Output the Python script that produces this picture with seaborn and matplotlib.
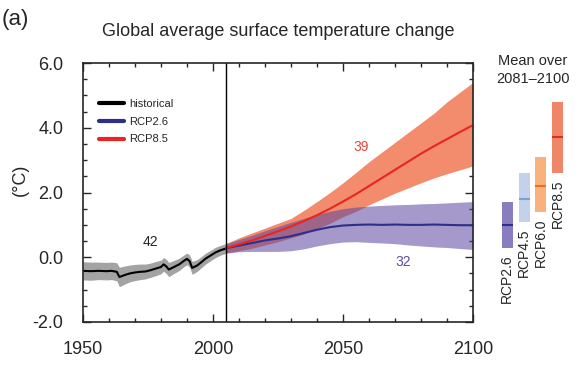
import numpy as np
import pandas as pd
import seaborn as sns
from matplotlib import pyplot as plt
from matplotlib.ticker import MultipleLocator

# historical mean and spread
hist_years = [1950, 1953, 1956, 1959, 1961, 1963, 1964, 1966, 1968, 1970, 1972, 1974, 1976, 1978,
              1980, 1981, 1982, 1983, 1985, 1987, 1989, 1990, 1991, 1992, 1994, 1996, 1997, 1999,
              2001, 2003, 2005]
hist_mean = [-0.42, -0.43, -0.42, -0.43, -0.42, -0.45, -0.61, -0.55, -0.50, -0.47, -0.45, -0.44,
             -0.40, -0.35, -0.30, -0.22, -0.28, -0.38, -0.30, -0.22, -0.10, -0.05, -0.12, -0.33,
             -0.25, -0.12, -0.05, 0.05, 0.15, 0.22, 0.27]
hist_spread = [0.28, 0.28, 0.27, 0.27, 0.27, 0.28, 0.30, 0.28, 0.26, 0.25, 0.24, 0.23, 0.22, 0.22,
               0.21, 0.21, 0.22, 0.22, 0.20, 0.19, 0.18, 0.18, 0.19, 0.20, 0.18, 0.17, 0.17, 0.16,
               0.16, 0.15, 0.15]

# projections
proj_years = [2005, 2010, 2015, 2020, 2025, 2030, 2035, 2040, 2045, 2050,
              2055, 2060, 2065, 2070, 2075, 2080, 2085, 2090, 2095, 2100]
rcp26_mean = [0.28, 0.36, 0.44, 0.52, 0.58, 0.65, 0.75, 0.85, 0.93, 0.98,
              1.00, 1.01, 1.00, 1.01, 1.00, 1.00, 1.01, 1.00, 0.99, 0.99]
rcp26_low = [0.13, 0.17, 0.18, 0.18, 0.18, 0.20, 0.26, 0.35, 0.42, 0.47,
             0.48, 0.46, 0.44, 0.42, 0.38, 0.35, 0.32, 0.30, 0.27, 0.24]
rcp26_high = [0.42, 0.55, 0.68, 0.82, 0.95, 1.08, 1.20, 1.32, 1.42, 1.50,
              1.55, 1.58, 1.60, 1.62, 1.63, 1.65, 1.66, 1.68, 1.70, 1.72]
rcp85_mean = [0.28, 0.40, 0.52, 0.66, 0.80, 0.95, 1.12, 1.30, 1.50, 1.72,
              1.95, 2.20, 2.45, 2.70, 2.95, 3.20, 3.43, 3.65, 3.87, 4.08]
rcp85_low = [0.13, 0.20, 0.28, 0.38, 0.48, 0.60, 0.72, 0.88, 1.05, 1.25,
             1.42, 1.62, 1.80, 1.98, 2.14, 2.30, 2.45, 2.58, 2.70, 2.82]
rcp85_high = [0.42, 0.60, 0.75, 0.90, 1.05, 1.20, 1.45, 1.72, 2.00, 2.30,
              2.62, 2.95, 3.25, 3.55, 3.85, 4.15, 4.45, 4.80, 5.10, 5.40]

# mean over 2081-2100
scenarios = ['RCP2.6', 'RCP4.5', 'RCP6.0', 'RCP8.5']
bar_mean = [1.0, 1.8, 2.2, 3.7]
bar_low = [0.3, 1.1, 1.4, 2.6]
bar_high = [1.7, 2.6, 3.1, 4.8]
bar_colors = ['#8a7dbf', '#c3d2ea', '#f9b27c', '#ef8667']
mean_colors = ['#2e2f8a', '#7f9fd2', '#e8731f', '#d9302a']

model_counts = {'historical': 42, 'RCP8.5': 39, 'RCP2.6': 32}

sns.set_style('ticks')
plt.rcParams['font.family'] = ['Liberation Sans', 'DejaVu Sans']

hist = pd.DataFrame({'year': hist_years, 'temp': hist_mean})
r26 = pd.DataFrame({'year': proj_years, 'temp': rcp26_mean})
r85 = pd.DataFrame({'year': proj_years, 'temp': rcp85_mean})

fig = plt.figure(figsize=(5.81, 3.72), dpi=100)
ax = fig.add_axes([83 / 581, 1 - 322 / 372, 390 / 581, 259 / 372])

h_lo = np.array(hist_mean) - np.array(hist_spread)
h_hi = np.array(hist_mean) + np.array(hist_spread)
ax.fill_between(hist_years, h_lo, h_hi, color='#a3a3a3', lw=0)
ax.fill_between(proj_years, rcp85_low, rcp85_high, color='#f28c6c', lw=0)
ax.fill_between(proj_years, rcp26_low, rcp26_high, color='#5a46a0', alpha=0.55, lw=0)

sns.lineplot(data=hist, x='year', y='temp', color='black', lw=1.5, ax=ax, label='historical')
sns.lineplot(data=r26, x='year', y='temp', color='#2e2f8a', lw=1.5, ax=ax, label='RCP2.6')
sns.lineplot(data=r85, x='year', y='temp', color='#e8251f', lw=1.5, ax=ax, label='RCP8.5')

ax.axvline(2005, color='black', lw=1)

ax.set_xlim(1950, 2100)
ax.set_ylim(-2, 6)
ax.xaxis.set_major_locator(MultipleLocator(50))
ax.xaxis.set_minor_locator(MultipleLocator(10))
ax.yaxis.set_major_locator(MultipleLocator(2))
ax.yaxis.set_minor_locator(MultipleLocator(0.5))
ax.yaxis.set_major_formatter(plt.FuncFormatter(lambda v, p: f'{v:.1f}'))
ax.tick_params(which='both', direction='in', top=True, right=True, width=1, labelsize=13)
ax.tick_params(which='major', length=6, pad=14)
ax.tick_params(which='minor', length=3)
for s in ax.spines.values():
    s.set_linewidth(1.2)
ax.set_xlabel('')
ax.set_ylabel('')

leg = ax.legend(loc='upper left', bbox_to_anchor=(0.015, 0.9), frameon=False, fontsize=8,
                handlelength=2.3, labelspacing=0.7, handletextpad=0.4)
for line in leg.get_lines():
    line.set_linewidth(3)

ax.text(1976, 0.47, str(model_counts['historical']), fontsize=10, ha='center', va='center')
ax.text(2057, 3.4, str(model_counts['RCP8.5']), fontsize=10, ha='center', va='center', color='#e8423a')
ax.text(2073, -0.15, str(model_counts['RCP2.6']), fontsize=10, ha='center', va='center', color='#5b4fa3')

# side panel with 2081-2100 means
ax2 = fig.add_axes([499 / 581, 1 - 322 / 372, 67 / 581, 259 / 372])
xpos = np.arange(len(scenarios))
ax2.bar(xpos, np.array(bar_high) - np.array(bar_low), bottom=bar_low, width=0.66,
        color=bar_colors, lw=0)
for i in xpos:
    ax2.hlines(bar_mean[i], i - 0.33, i + 0.33, color=mean_colors[i], lw=1.5)
    ax2.text(i, bar_low[i] - 0.2, scenarios[i], rotation=90, ha='center', va='top', fontsize=10)
ax2.set_xlim(-0.5, 3.5)
ax2.set_ylim(-2, 6)
ax2.axis('off')

fig.text(20 / 581, 1 - 180 / 372, '(°C)', rotation=90, ha='center', va='center', fontsize=13)
fig.text(533 / 581, 1 - 70 / 372, 'Mean over\n2081\u20132100', ha='center', va='center',
         fontsize=10.5, linespacing=1.3)
fig.text(278 / 581, 1 - 32 / 372, 'Global average surface temperature change', ha='center',
         va='center', fontsize=13)
fig.text(2 / 581, 1 - 20 / 372, '(a)', ha='left', va='center', fontsize=16)

fig.savefig('out.png', dpi=100)
